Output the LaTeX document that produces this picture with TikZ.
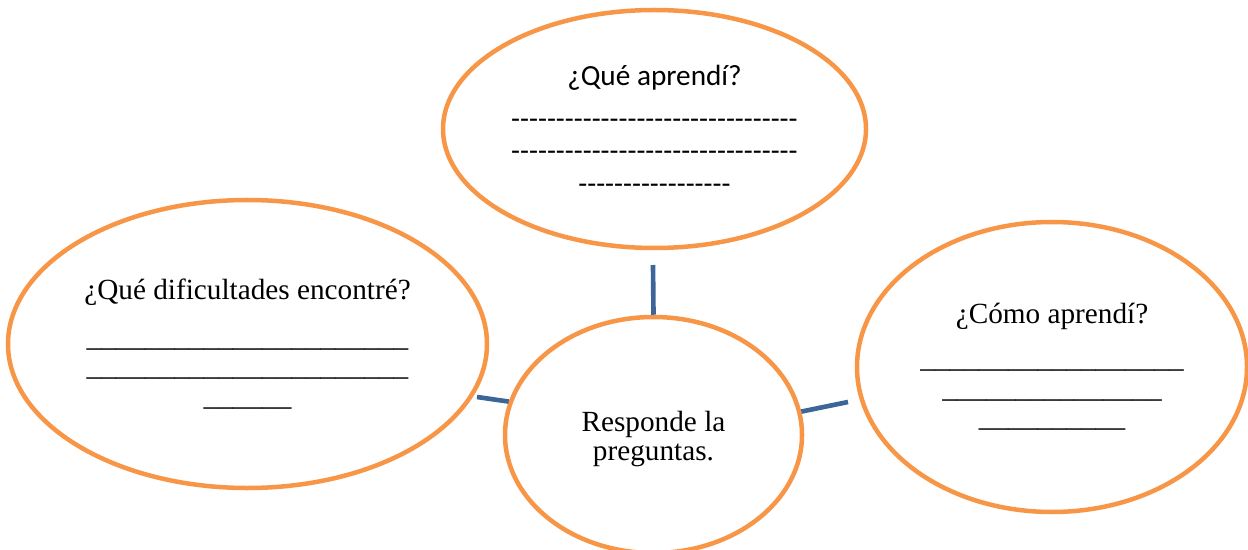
\documentclass[tikz,border=0pt]{standalone}
\usepackage{fontspec}
\setmainfont{Liberation Serif}
\newfontfamily\calibri{Carlito}
\usepackage{tikz}
\usetikzlibrary{positioning, shapes.geometric}

\definecolor{bubbleorange}{HTML}{F79646}
\definecolor{linkblue}{HTML}{3C6697}

\def\px{0.025cm}
\newcommand\blankline[1]{\foreach \k in {1,...,#1}{\_}}

\tikzset{
    bubble/.style={ellipse, draw=bubbleorange, line width=3.2pt, inner sep=0pt, align=center},
    serif/.style={font=\fontsize{20.8}{21}\selectfont},
    sans/.style={font=\calibri\fontsize{20.8}{23}\selectfont},
    link/.style={linkblue, line width=3.3pt}
}

\begin{document}
\begin{tikzpicture}[x=\px, y=-\px]
    \useasboundingbox (0,0) rectangle (1248,550);

    % questions
    \node[bubble, sans, minimum width=423*\px, minimum height=238*\px] (qwhat) at (654.5,129)
        {¿Qué aprendí?\\[7.6pt]
         --------------------------------\\
         --------------------------------\\
         -----------------};
    \node[bubble, serif, minimum width=479*\px, minimum height=288*\px] (qhard) at (247.5,344)
        {¿Qué dificultades encontré?\\[12.4pt]
         \blankline{22}\\
         \blankline{22}\\
         \blankline{6}};
    \node[bubble, serif, minimum width=390*\px, minimum height=290*\px] (qhow) at (1052,367)
        {¿Cómo aprendí?\\[10.3pt]
         \blankline{18}\\
         \blankline{15}\\
         \blankline{10}};

    % centre
    \node[bubble, serif, minimum width=297*\px, minimum height=236*\px] (resp) at (653.5,435)
        {\rule{0pt}{20pt}Responde la\\preguntas.};

    % free ends of the links
    \coordinate (ewhat) at (653,265);
    \coordinate (ehard) at (477,397);
    \coordinate (ehow) at (848,402);

    % links
    \foreach \from/\to in {
        resp.north/ewhat,
        resp.167/ehard,
        resp.9/ehow}
    {
        \draw[link] (\from) -- (\to);
    }
\end{tikzpicture}
\end{document}
